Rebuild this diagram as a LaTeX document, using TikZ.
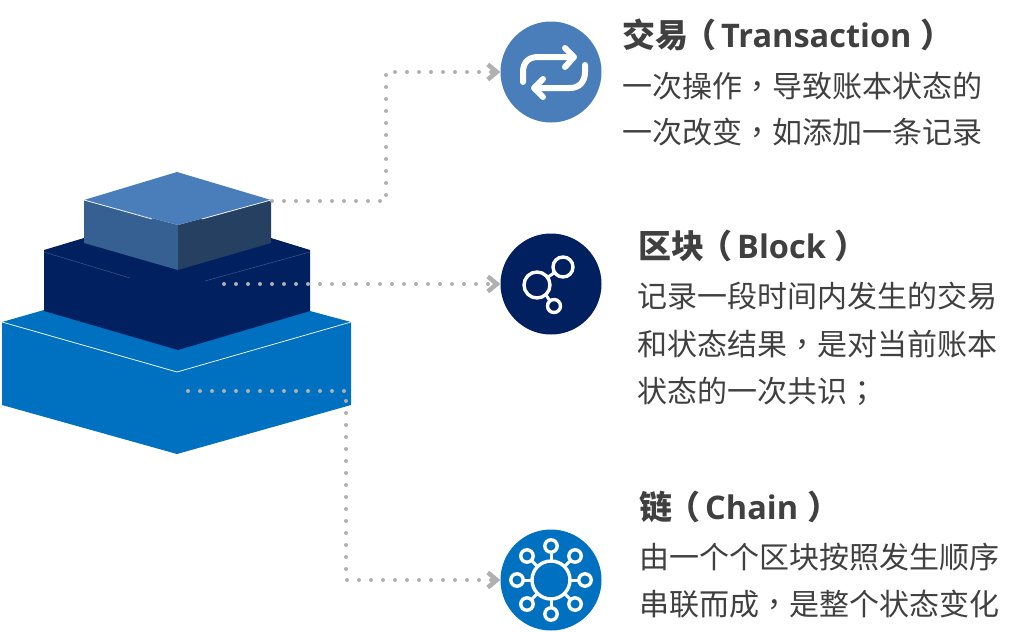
\documentclass[tikz,border=0pt]{standalone}
\usepackage{fontspec}
\setmainfont{Noto Sans CJK SC}
\newfontfamily\latinb{Open Sans}
\newfontfamily\punct{Noto Sans CJK TC}
\usetikzlibrary{arrows.meta}
\definecolor{cA}{HTML}{4A7EBB}
\definecolor{cAl}{HTML}{376092}
\definecolor{cAr}{HTML}{254061}
\definecolor{cB}{HTML}{002060}
\definecolor{cC}{HTML}{0070C0}
\definecolor{ctext}{HTML}{404040}
\definecolor{cdot}{HTML}{B0B0B0}
\newcommand{\pn}[1]{{\punct #1}}
\newcommand{\po}{\hspace*{-5pt}{\punct （}\hspace*{5pt}}
\newcommand{\pc}{\hspace*{9pt}{\punct ）}}
\newcommand{\lt}[1]{{\latinb\fontsize{32.5}{36}\selectfont #1}}
\tikzset{
 x=1pt,y=-1pt,
 link/.style={cdot,line width=4pt,line cap=round,dash pattern=on 0pt off 12pt,
   -{Straight Barb[length=9pt,width=15pt,line width=4.5pt]}},
 icon/.style={circle,minimum size=101pt,inner sep=0pt},
 ln/.style={white,line width=6pt,line cap=round,line join=round},
 ring/.style={white,line width=3.4pt,fill=none},
 head/.style={anchor=base west,inner sep=0pt,text=ctext,font=\fontsize{33}{36}\selectfont\bfseries},
 body/.style={anchor=base west,inner sep=0pt,text=ctext,font=\fontsize{30}{36}\selectfont},
 edge line/.style={white,line width=.7pt},
}
\begin{document}
\begin{tikzpicture}
\useasboundingbox[fill=white] (0,0) rectangle (1034,632);
% bottom tier
\fill[cC] (2,322) -- (44,310) -- (310,311) -- (351,322) -- (351,405) -- (177,454) -- (2,405) -- cycle;
\draw[edge line] (2,322) -- (177,372) -- (351,322);
% middle tier
\fill[cB] (44,250) -- (84,238) -- (271,238) -- (310,250) -- (310,311) -- (178,350) -- (44,311) -- cycle;
\draw[white!25!cB,line width=.5pt] (44,252) -- (130,278);
\draw[white!25!cB,line width=.5pt] (205,281) -- (310,252);
% top tier
\fill[cAl] (84,200) -- (178,225) -- (178,270) -- (84,243) -- cycle;
\fill[cAr] (271,200) -- (178,225) -- (178,270) -- (271,243) -- cycle;
\fill[cA] (177,172) -- (271,200) -- (178,225) -- (84,200) -- cycle;
\draw[edge line] (84,200) -- (152,219);
\draw[edge line] (202,219) -- (271,200);
% anchors of connectors
\coordinate (tierA) at (272,201);
\coordinate (tierB) at (224,284);
\coordinate (tierC) at (188,391);
\coordinate (bendA) at (386,201);
\coordinate (bendAb) at (386,72);
\coordinate (bendC) at (346,391);
\coordinate (bendCb) at (346,580);
% icons
\node[icon,fill=cA] (iconA) at (551,72) {};
\node[icon,fill=cB] (iconB) at (551,284) {};
\node[icon,fill=cC] (iconC) at (551,580) {};
% connectors
\draw[link] (tierA) -- (bendA) -- (bendAb) -- (iconA.west);
\draw[link] (tierB) -- (iconB.west);
\draw[link] (tierC) -- (bendC) -- (bendCb) -- (iconC.west);
% repeat icon
\draw[ln] (523,82) -- (523,72) .. controls (523,62) and (529,57) .. (538,57) -- (572,57);
\draw[ln] (565,48) -- (574,57) -- (565,67);
\draw[ln] (585,65) -- (585,72) .. controls (585,82) and (579,88) .. (570,88) -- (535,88);
\draw[ln] (543,79) -- (534,88) -- (543,97);
% network icon
\draw[ring] (537,285) circle (13);
\draw[ring] (563,267) circle (10);
\draw[ring] (554,306) circle (6.5);
\draw[white,line width=3pt] (548,277) -- (554,273);
\draw[white,line width=3pt] (546,295) -- (550,301);
% chain icon
\draw[ring] (551,580) circle (19);
\foreach \a in {0,45,...,315}{
  \draw[white,line width=3pt] (551,580) ++(\a:19) -- ++(\a:9);
  \draw[ring,fill=cC] (551,580) ++(\a:34) circle (6.2);
}
% texts
\node[head] (hA) at (622,47) {交易\po\lt{Transaction}\pc};
\node[body] (a1) at (622,97) {一次操作\pn{，}导致账本状态的};
\node[body] (a2) at (622,143) {一次改变\pn{，}如添加一条记录};
\node[head] (hB) at (638,258) {区块\po\lt{Block}\pc};
\node[body] (b1) at (637,307) {记录一段时间内发生的交易};
\node[body] (b2) at (637,355) {和状态结果\pn{，}是对当前账本};
\node[body] (b3) at (637,402) {状态的一次共识\pn{；}};
\node[head] (hC) at (639,519) {链\po\lt{Chain}\pc};
\node[body] (c1) at (639,568) {由一个个区块按照发生顺序};
\node[body] (c2) at (639,615) {串联而成\pn{，}是整个状态变化};
\end{tikzpicture}
\end{document}
